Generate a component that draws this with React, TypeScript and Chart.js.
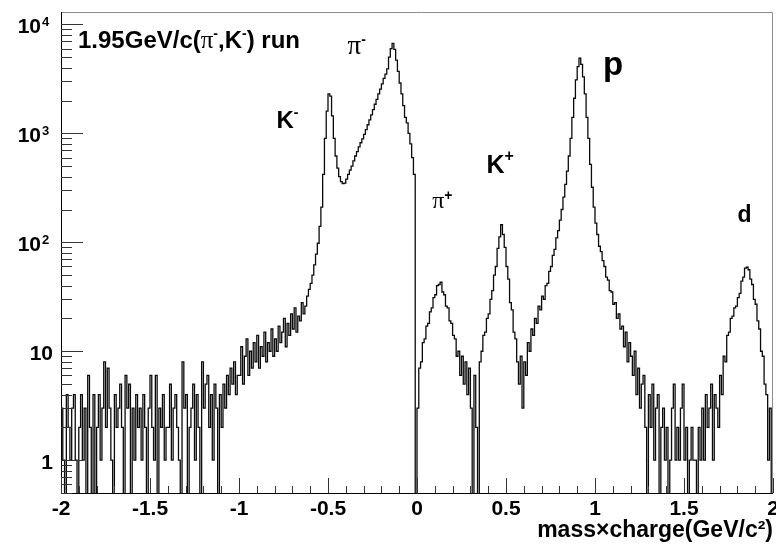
import { useEffect, useRef } from "react";
import { Chart, registerables } from "chart.js";

Chart.register(...registerables);

// Histogram binning: 400 bins of 0.01 GeV/c^2 spanning -2 .. 2
const BIN_START = -2;
const BIN_WIDTH = 0.01;

// Bin contents, -2.00 .. -1.00 (flat background)
const countsLowTail = [
  3, 1, 0, 4, 2, 1, 3, 4, 1, 0, 2, 4, 1, 3, 0, 6, 2, 0, 4, 0,
  2, 4, 1, 3, 8, 2, 7, 3, 1, 0, 4, 2, 3, 5, 2, 0, 6, 3, 5, 0,
  3, 1, 4, 2, 3, 1, 4, 2, 0, 3, 6, 2, 1, 6, 0, 3, 2, 4, 1, 2,
  2, 5, 1, 3, 4, 2, 1, 0, 8, 3, 4, 0, 2, 3, 5, 1, 4, 2, 0, 8,
  3, 5, 6, 2, 4, 1, 5, 3, 0, 4, 2, 5, 3, 6, 4, 7, 5, 8, 4, 6,
];

// Bin contents, -1.00 .. 0.00 (K- and pi- peaks)
const countsNegativePeaks = [
  6, 11, 5, 9, 13, 6, 10, 7, 12, 8, 14, 7, 11, 9, 15, 8, 12, 10, 16, 9,
  13, 10, 17, 12, 15, 20, 11, 18, 14, 22, 16, 25, 15, 21, 19, 28, 22, 26, 32, 37,
  42, 50, 62, 78, 98, 140, 210, 420, 900, 1600, 2300, 2200, 1450, 900, 620, 480, 400, 360, 345, 350,
  380, 420, 460, 500, 560, 620, 680, 750, 820, 890, 980, 1080, 1200, 1330, 1480, 1650, 1850, 2050, 2300, 2550,
  2850, 3200, 3500, 3900, 5000, 6000, 6700, 5900, 4700, 3700, 2900, 2300, 1800, 1400, 1250, 1000, 800, 600, 420, 0,
];

// Bin contents, 0.00 .. 0.60 (pi+ and K+ peaks)
const countsPionKaonPlus = [
  3, 7, 8, 12, 13, 17, 18, 23, 25, 31, 33, 40, 41, 43, 35, 33, 26, 25, 19, 18,
  14, 13, 9, 10, 6, 9, 5, 8, 4, 7, 3, 0, 6, 2, 0, 8, 10, 14, 15, 20,
  22, 30, 36, 50, 60, 88, 112, 145, 118, 90, 60, 46, 28, 24, 15, 13, 8, 5, 9, 3,
];

// Bin contents, 0.60 .. 1.20 (proton peak)
const countsProton = [
  8, 6, 12, 10, 16, 14, 20, 18, 26, 24, 32, 30, 40, 42, 54, 60, 76, 86, 110, 128,
  160, 200, 260, 340, 450, 620, 900, 1400, 2100, 3100, 4100, 4900, 4300, 3300, 2300, 1400, 900, 520, 320, 210,
  150, 118, 92, 82, 68, 60, 48, 45, 36, 35, 27, 28, 20, 22, 16, 17, 11, 15, 8, 12,
];

// Bin contents, 1.20 .. 2.00 (deuteron peak)
const countsDeuteron = [
  9, 6, 10, 4, 7, 3, 5, 6, 2, 0, 4, 2, 5, 1, 3, 4, 0, 2, 3, 1,
  2, 0, 1, 3, 5, 1, 2, 1, 3, 5, 1, 2, 0, 1, 2, 1, 1, 0, 2, 1,
  3, 1, 4, 2, 3, 5, 1, 4, 3, 2, 6, 4, 9, 8, 14, 15, 20, 21, 25, 26,
  31, 34, 44, 48, 58, 59, 56, 46, 41, 30, 27, 19, 16, 10, 9, 5, 4, 1, 3, 0,
];

// Axis ticks and labels
const xMajorTicks = [-2, -1.5, -1, -0.5, 0, 0.5, 1, 1.5, 2];
const yDecades = [1, 10, 100, 1000, 10000];
const yDecadeBase = ["1", "10", "10", "10", "10"];
const yDecadeExp = ["", "", "2", "3", "4"];
const xTitle = "mass×charge(GeV/c²)";

const Y_MIN = 0.5;
const Y_MAX = 13000;
// empty bins fall below the frame bottom and are clipped there
const LOG_FLOOR = 0.1;

const SANS = "'Liberation Sans', Arial, Helvetica, sans-serif";
const SERIF = "'Liberation Serif', 'Times New Roman', serif";
const bold = (px: number) => `bold ${px}px ${SANS}`;
const serif = (px: number) => `${px}px ${SERIF}`;

type Run = { text: string; font: string; rise?: number };

// Particle labels, anchored in data coordinates (left edge, baseline)
const peakLabels: { x: number; y: number; runs: Run[] }[] = [
  { x: -0.79, y: 1120, runs: [{ text: "K", font: bold(24) }, { text: "-", font: bold(14), rise: 11 }] },
  { x: -0.39, y: 5300, runs: [{ text: "π", font: serif(27) }, { text: "-", font: bold(14), rise: 10 }] },
  { x: 0.085, y: 205, runs: [{ text: "π", font: serif(24) }, { text: "+", font: bold(14), rise: 8 }] },
  { x: 0.39, y: 435, runs: [{ text: "K", font: bold(25) }, { text: "+", font: bold(16), rise: 12 }] },
  { x: 1.045, y: 3420, runs: [{ text: "p", font: bold(33) }] },
  { x: 1.8, y: 152, runs: [{ text: "d", font: bold(23) }] },
];

const runTitle: Run[] = [
  { text: "1.95GeV/c(", font: bold(24) },
  { text: "π", font: serif(25) },
  { text: "-", font: bold(14), rise: 10 },
  { text: ",K", font: bold(24) },
  { text: "-", font: bold(14), rise: 10 },
  { text: ") run", font: bold(24) },
];

function drawRuns(ctx: CanvasRenderingContext2D, x: number, y: number, runs: Run[]) {
  let cx = x;
  for (const r of runs) {
    ctx.font = r.font;
    ctx.fillText(r.text, cx, y - (r.rise ?? 0));
    cx += ctx.measureText(r.text).width;
  }
}

const framePlugin = {
  id: "rootFrame",
  afterDatasetsDraw(chart: any) {
    const { ctx, chartArea: a, scales } = chart;
    const xs = scales.x;
    const ys = scales.y;
    ctx.save();

    // top and right frame edges
    ctx.strokeStyle = "#8c8c8c";
    ctx.lineWidth = 1;
    ctx.beginPath();
    ctx.moveTo(a.left, a.top + 0.5);
    ctx.lineTo(a.right - 0.5, a.top + 0.5);
    ctx.lineTo(a.right - 0.5, a.bottom);
    ctx.stroke();

    // axis lines
    ctx.strokeStyle = "#000";
    ctx.beginPath();
    ctx.moveTo(a.left + 0.5, a.top);
    ctx.lineTo(a.left + 0.5, a.bottom + 0.5);
    ctx.lineTo(a.right, a.bottom + 0.5);
    ctx.stroke();

    // x ticks: major every 0.5, minor every 0.1, pointing into the frame
    ctx.strokeStyle = "#333";
    ctx.beginPath();
    for (let k = -20; k <= 20; k++) {
      const v = k / 10;
      const px = Math.round(xs.getPixelForValue(v)) + 0.5;
      const len = k % 5 === 0 ? 15 : 7;
      ctx.moveTo(px, a.bottom);
      ctx.lineTo(px, a.bottom - len);
    }
    ctx.stroke();

    // y ticks: decades long, 2..9 short
    ctx.beginPath();
    for (let d = 0.1; d <= 10000; d *= 10) {
      for (let k = 1; k <= 9; k++) {
        const v = k * d;
        if (v < Y_MIN * 0.999 || v > Y_MAX) continue;
        const py = Math.round(ys.getPixelForValue(v)) + 0.5;
        const len = k === 1 ? 22 : 11;
        ctx.moveTo(a.left, py);
        ctx.lineTo(a.left + len, py);
      }
    }
    ctx.stroke();

    // y tick labels with superscript exponents
    ctx.fillStyle = "#000";
    ctx.textBaseline = "alphabetic";
    yDecades.forEach((v, i) => {
      const py = ys.getPixelForValue(v);
      ctx.font = bold(21);
      if (yDecadeExp[i]) {
        ctx.textAlign = "right";
        ctx.fillText(yDecadeBase[i], a.left - 20, py + 9);
        ctx.textAlign = "left";
        ctx.font = bold(13);
        ctx.fillText(yDecadeExp[i], a.left - 19, py + 2);
      } else {
        ctx.textAlign = "right";
        ctx.fillText(yDecadeBase[i], a.left - 8, py + 9);
      }
    });

    // run title and particle labels
    ctx.textAlign = "left";
    drawRuns(ctx, a.left + 17, a.top + 36, runTitle);
    for (const lab of peakLabels) {
      drawRuns(ctx, xs.getPixelForValue(lab.x), ys.getPixelForValue(lab.y), lab.runs);
    }
    ctx.restore();
  },
};

export default function App() {
  const canvasRef = useRef<HTMLCanvasElement | null>(null);

  useEffect(() => {
    const canvas = canvasRef.current;
    if (!canvas) return;
    const counts = [
      ...countsLowTail,
      ...countsNegativePeaks,
      ...countsPionKaonPlus,
      ...countsProton,
      ...countsDeuteron,
    ];
    const points = counts.map((c, i) => ({
      x: BIN_START + BIN_WIDTH * (i + 0.5),
      y: c > 0 ? c : LOG_FLOOR,
    }));

    const chart = new Chart(canvas, {
      type: "line",
      data: {
        datasets: [
          {
            data: points,
            stepped: "middle",
            borderColor: "#0a0a0a",
            borderWidth: 1.3,
            pointRadius: 0,
            fill: false,
          },
        ],
      },
      options: {
        animation: false,
        responsive: false,
        devicePixelRatio: 1,
        events: [],
        layout: { padding: { left: 0, right: 3, top: 12, bottom: 0 } },
        plugins: { legend: { display: false }, tooltip: { enabled: false } },
        scales: {
          x: {
            type: "linear",
            min: -2,
            max: 2,
            grid: { display: false, drawTicks: false },
            border: { display: false },
            afterBuildTicks: (s: any) => {
              s.ticks = xMajorTicks.map((v) => ({ value: v }));
            },
            afterFit: (s: any) => {
              s.height = 51;
              s.paddingLeft = 0;
              s.paddingRight = 0;
            },
            ticks: {
              autoSkip: false,
              maxRotation: 0,
              padding: 4,
              color: "#000",
              font: { family: SANS, size: 21, weight: "bold" },
              callback: (v: any) => String(v),
            },
            title: {
              display: true,
              text: xTitle,
              align: "end",
              color: "#000",
              font: { family: SANS, size: 23, weight: "bold" },
              padding: { top: 0, bottom: 0 },
            },
          },
          y: {
            type: "logarithmic",
            min: Y_MIN,
            max: Y_MAX,
            grid: { display: false, drawTicks: false },
            border: { display: false },
            ticks: { display: false },
            afterBuildTicks: (s: any) => {
              s.ticks = yDecades.map((v) => ({ value: v }));
            },
            afterFit: (s: any) => {
              s.width = 61;
              s.paddingTop = 0;
              s.paddingBottom = 0;
            },
          },
        },
      },
      plugins: [framePlugin],
    } as any);

    return () => chart.destroy();
  }, []);

  return (
    <div style={{ position: "fixed", left: 0, top: 0, width: 776, height: 544, background: "#fff" }}>
      <canvas ref={canvasRef} width={776} height={544} style={{ display: "block" }} />
    </div>
  );
}
